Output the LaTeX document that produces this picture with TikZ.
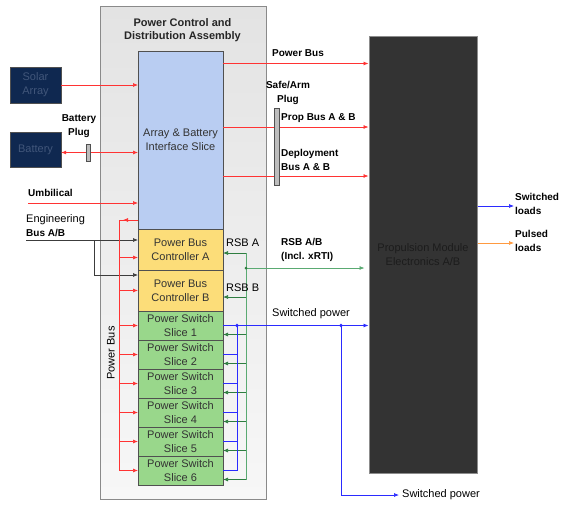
\documentclass[tikz,border=0pt]{standalone}
\usepackage{fontspec}
\setmainfont{Liberation Sans}
\usetikzlibrary{arrows.meta, positioning, calc}
\definecolor{PcdaEdge}{HTML}{8A8A8A}
\definecolor{PcdaTop}{HTML}{E3E3E3}
\definecolor{PcdaBottom}{HTML}{F7F7F7}
\definecolor{SliceBlue}{HTML}{B9CDF2}
\definecolor{SliceYellow}{HTML}{FCDD79}
\definecolor{SliceGreen}{HTML}{99D78B}
\definecolor{SliceEdge}{HTML}{505050}
\definecolor{SourceNavy}{HTML}{0F2850}
\definecolor{SourceText}{HTML}{41567A}
\definecolor{PmeDark}{HTML}{333333}
\definecolor{PmeEdge}{HTML}{8C8C8C}
\definecolor{PmeText}{HTML}{1C1C1C}
\definecolor{PlugGray}{HTML}{BDBDBD}
\definecolor{BusRed}{HTML}{FF3333}
\definecolor{BusBlue}{HTML}{2B2BFF}
\definecolor{BusGreen}{HTML}{5AAA72}
\definecolor{BusDarkGreen}{HTML}{2E7D40}
\definecolor{BusOrange}{HTML}{FF9A40}
\definecolor{BusGray}{HTML}{3C3C3C}
\tikzset{
    every node/.style={font=\fontsize{11}{14}\selectfont},
    % Assembly frame
    assembly/.style={
        rectangle,
        draw=PcdaEdge,
        top color=PcdaTop,
        bottom color=PcdaBottom,
        line width=1pt,
        minimum width=166pt,
        minimum height=493pt
    },
    % Heading of the assembly
    heading/.style={
        align=center,
        text=black!85,
        font=\fontsize{11}{13}\selectfont\bfseries
    },
    % Slice boxes
    slice/.style={
        rectangle,
        draw=SliceEdge,
        line width=0.8pt,
        minimum width=85pt,
        inner sep=1pt,
        outer sep=0pt,
        text=black!80,
        align=center
    },
    interface/.style={slice, fill=SliceBlue, minimum height=178pt},
    controller/.style={slice, fill=SliceYellow, minimum height=41pt},
    switchslice/.style={slice, fill=SliceGreen, minimum height=29pt},
    % Source boxes
    source/.style={
        rectangle,
        draw=SliceEdge,
        fill=SourceNavy,
        text=SourceText,
        minimum width=51pt,
        minimum height=36pt,
        align=center
    },
    % Plugs
    plug/.style={
        rectangle,
        draw=SliceEdge,
        fill=PlugGray,
        inner sep=0pt,
        minimum width=4pt
    },
    % Propulsion module
    module/.style={
        rectangle,
        draw=PmeEdge,
        fill=PmeDark,
        text=PmeText,
        line width=1pt,
        minimum width=108pt,
        minimum height=437pt,
        align=center
    },
    % Labels
    lbl/.style={inner sep=1pt, align=left},
    boldlbl/.style={lbl, font=\fontsize{10}{14}\selectfont\bfseries},
    % Connector styles
    pwr/.style={->, >={Latex[length=5pt,width=4pt]}, draw=BusRed, line width=0.7pt},
    pwrline/.style={draw=BusRed, line width=0.7pt},
    ctl/.style={->, >={Latex[length=5pt,width=4pt]}, draw=BusGray, line width=0.7pt},
    rsb/.style={draw=BusGreen, line width=0.8pt},
    rsbarrow/.style={->, >={Latex[length=5pt,width=4pt]}, draw=BusDarkGreen, line width=0.7pt},
    swp/.style={->, >={Latex[length=5pt,width=4pt]}, draw=BusBlue, line width=0.7pt},
    swline/.style={draw=BusBlue, line width=0.8pt},
    pulse/.style={->, >={Latex[length=5pt,width=4pt]}, draw=BusOrange, line width=0.7pt}
}
\begin{document}
\begin{tikzpicture}[x=1pt, y=-1pt]
    \useasboundingbox (0,0) rectangle (565,504);

    % Power control and distribution assembly
    \node[assembly] (pcda) at (183,252.5) {};
    \node[heading] (ttl) at (182.5,30.5) {Power Control and\\Distribution Assembly};

    \node[interface] (abi) at (180.5,140) {Array \& Battery\\Interface Slice};
    \node[controller, below=0pt of abi] (pbca) {Power Bus\\Controller A};
    \node[controller, below=0pt of pbca] (pbcb) {Power Bus\\Controller B};
    \node[switchslice, below=0pt of pbcb] (pss1) {Power Switch\\Slice 1};
    \node[switchslice, below=0pt of pss1] (pss2) {Power Switch\\Slice 2};
    \node[switchslice, below=0pt of pss2] (pss3) {Power Switch\\Slice 3};
    \node[switchslice, below=0pt of pss3] (pss4) {Power Switch\\Slice 4};
    \node[switchslice, below=0pt of pss4] (pss5) {Power Switch\\Slice 5};
    \node[switchslice, below=0pt of pss5] (pss6) {Power Switch\\Slice 6};

    % Sources
    \node[source] (solar) at (35.5,85) {Solar\\Array};
    \node[source, minimum height=35pt] (batt) at (35.5,149.5) {Battery};
    \node[boldlbl, align=center] (bplugl) at (79,126) {Battery\\Plug};

    % Propulsion module electronics
    \node[module] (pme) at (423,254.5) {Propulsion Module\\Electronics A/B};

    % Inputs to the interface slice
    \coordinate (bplugc) at (88,152.5);
    \draw[pwr] (solar.east) -- (solar.east -| abi.west);
    \draw[pwr, <->] (bplugc -| batt.east) -- (bplugc -| abi.west);
    \node[plug, minimum height=17pt] (bplug) at (bplugc) {};

    \node[boldlbl, anchor=west] (umb) at (27,193) {Umbilical};
    \coordinate (umbs) at (28,203);
    \draw[pwr] (umbs) -- (umbs -| abi.west);

    % Engineering bus
    \node[lbl, anchor=west] (eng) at (25,225.5) {Engineering\\{\fontsize{10}{13}\selectfont\bfseries Bus A/B}};
    \coordinate (engs) at (26,240);
    \coordinate (engj) at (94,240);
    \coordinate (engb) at (94,275);
    \draw[ctl] (engs) -- (engs -| pbca.west);
    \draw[ctl] (engj) -- (engb) -- (engb -| pbcb.west);

    % Internal power bus
    \coordinate (pbt) at (119,220);
    \coordinate (pbb) at (119,471);
    \draw[pwrline] (pbt -| abi.west) -- (pbt) -- (pbb);
    \draw[pwr] (pbt -| abi.west) -- ([xshift=4pt]pbt);
    \coordinate (tapa) at ([yshift=-8pt]pbca.west);
    \draw[pwr] (pbt |- tapa) -- (tapa);
    \draw[pwr] (pbt |- pbcb.west) -- (pbcb.west);
    \draw[pwr] (pbt |- pss1.west) -- (pss1.west);
    \draw[pwr] (pbt |- pss2.west) -- (pss2.west);
    \draw[pwr] (pbt |- pss3.west) -- (pss3.west);
    \draw[pwr] (pbt |- pss4.west) -- (pss4.west);
    \draw[pwr] (pbt |- pss5.west) -- (pss5.west);
    \draw[pwr] (pbt |- pss6.west) -- (pss6.west);
    \node[lbl, rotate=90] (pbusv) at (111,353) {Power Bus};

    % Outputs to the propulsion module
    \coordinate (pbo) at ([yshift=-12.5pt]abi.north east);
    \coordinate (pab) at ([yshift=-76pt]abi.north east);
    \coordinate (dab) at ([yshift=-125pt]abi.north east);
    \draw[pwr] (pbo) -- (pbo -| pme.west);
    \draw[pwr] (pab) -- (pab -| pme.west);
    \draw[pwr] (dab) -- (dab -| pme.west);
    \node[plug, minimum width=5pt, minimum height=77pt] (saplug) at (276.5,146.5) {};
    \node[boldlbl] (pbusl) at (298,53) {Power Bus};
    \node[boldlbl, align=center] (sal) at (288,93) {Safe/Arm\\Plug};
    \node[boldlbl, anchor=west] (pabl) at (280,118) {Prop Bus A \& B};
    \node[boldlbl, anchor=west] (dabl) at (280,160) {Deployment\\Bus A \& B};

    % RSB links
    \coordinate (rsbx) at (246,268);
    \coordinate (gA) at ([yshift=-3.5pt]pbca.east);
    \coordinate (gB) at ([yshift=-6.5pt]pbcb.east);
    \coordinate (g1) at ([yshift=-9pt]pss1.east);
    \coordinate (g2) at ([yshift=-9pt]pss2.east);
    \coordinate (g3) at ([yshift=-9pt]pss3.east);
    \coordinate (g4) at ([yshift=-9pt]pss4.east);
    \coordinate (g5) at ([yshift=-9pt]pss5.east);
    \coordinate (g6) at ([yshift=-9pt]pss6.east);
    \draw[rsb] (rsbx |- gA) -- (rsbx |- g6);
    \draw[rsbarrow] (rsbx |- gA) -- (gA);
    \draw[rsbarrow] (rsbx |- gB) -- (gB);
    \draw[rsbarrow] (rsbx |- g1) -- (g1);
    \draw[rsbarrow] (rsbx |- g2) -- (g2);
    \draw[rsbarrow] (rsbx |- g3) -- (g3);
    \draw[rsbarrow] (rsbx |- g4) -- (g4);
    \draw[rsbarrow] (rsbx |- g5) -- (g5);
    \draw[rsbarrow] (rsbx |- g6) -- (g6);
    \draw[rsbarrow, draw=BusGreen, shorten >=4pt] (rsbx) -- (rsbx -| pme.west);
    \fill[BusDarkGreen] (rsbx) circle (1.5pt);
    \node[lbl, anchor=west] (rsbal) at (225,243) {RSB A};
    \node[lbl, anchor=west] (rsbbl) at (225,288) {RSB B};
    \node[boldlbl, anchor=west] (rsbl) at (280,249.5) {RSB A/B\\(Incl. xRTI)};

    % Switched power
    \coordinate (swj) at ([xshift=14pt]pss1.east);
    \coordinate (swk) at ([xshift=118pt]pss1.east);
    \coordinate (swd) at (341,495);
    \draw[swp] (pss1.east) -- (pss1.east -| pme.west);
    \draw[swline] (swj) -- (swj |- pss6.east);
    \draw[swline] (pss2.east) -- (swj |- pss2.east);
    \draw[swline] (pss3.east) -- (swj |- pss3.east);
    \draw[swline] (pss4.east) -- (swj |- pss4.east);
    \draw[swline] (pss5.east) -- (swj |- pss5.east);
    \draw[swline] (pss6.east) -- (swj |- pss6.east);
    \fill[BusBlue] (swj) circle (1.8pt);
    \fill[BusBlue] (swk) circle (1.8pt);
    \node[lbl, anchor=west] (swpl) at (271,314) {Switched power};
    \node[lbl, anchor=west, inner sep=3pt] (swpo) at (399,495) {Switched power};
    \draw[swp] (swk) -- (swd) -- (swpo.west);

    % Loads
    \node[boldlbl, anchor=west] (swl) at (514,203.5) {Switched\\loads};
    \node[boldlbl, anchor=west] (pul) at (514,240.5) {Pulsed\\loads};
    \coordinate (swo) at ([yshift=48.5pt]pme.east);
    \coordinate (puo) at ([yshift=11.5pt]pme.east);
    \draw[swp] (swo) -- (swo -| swl.west);
    \draw[pulse] (puo) -- (puo -| pul.west);
\end{tikzpicture}
\end{document}
